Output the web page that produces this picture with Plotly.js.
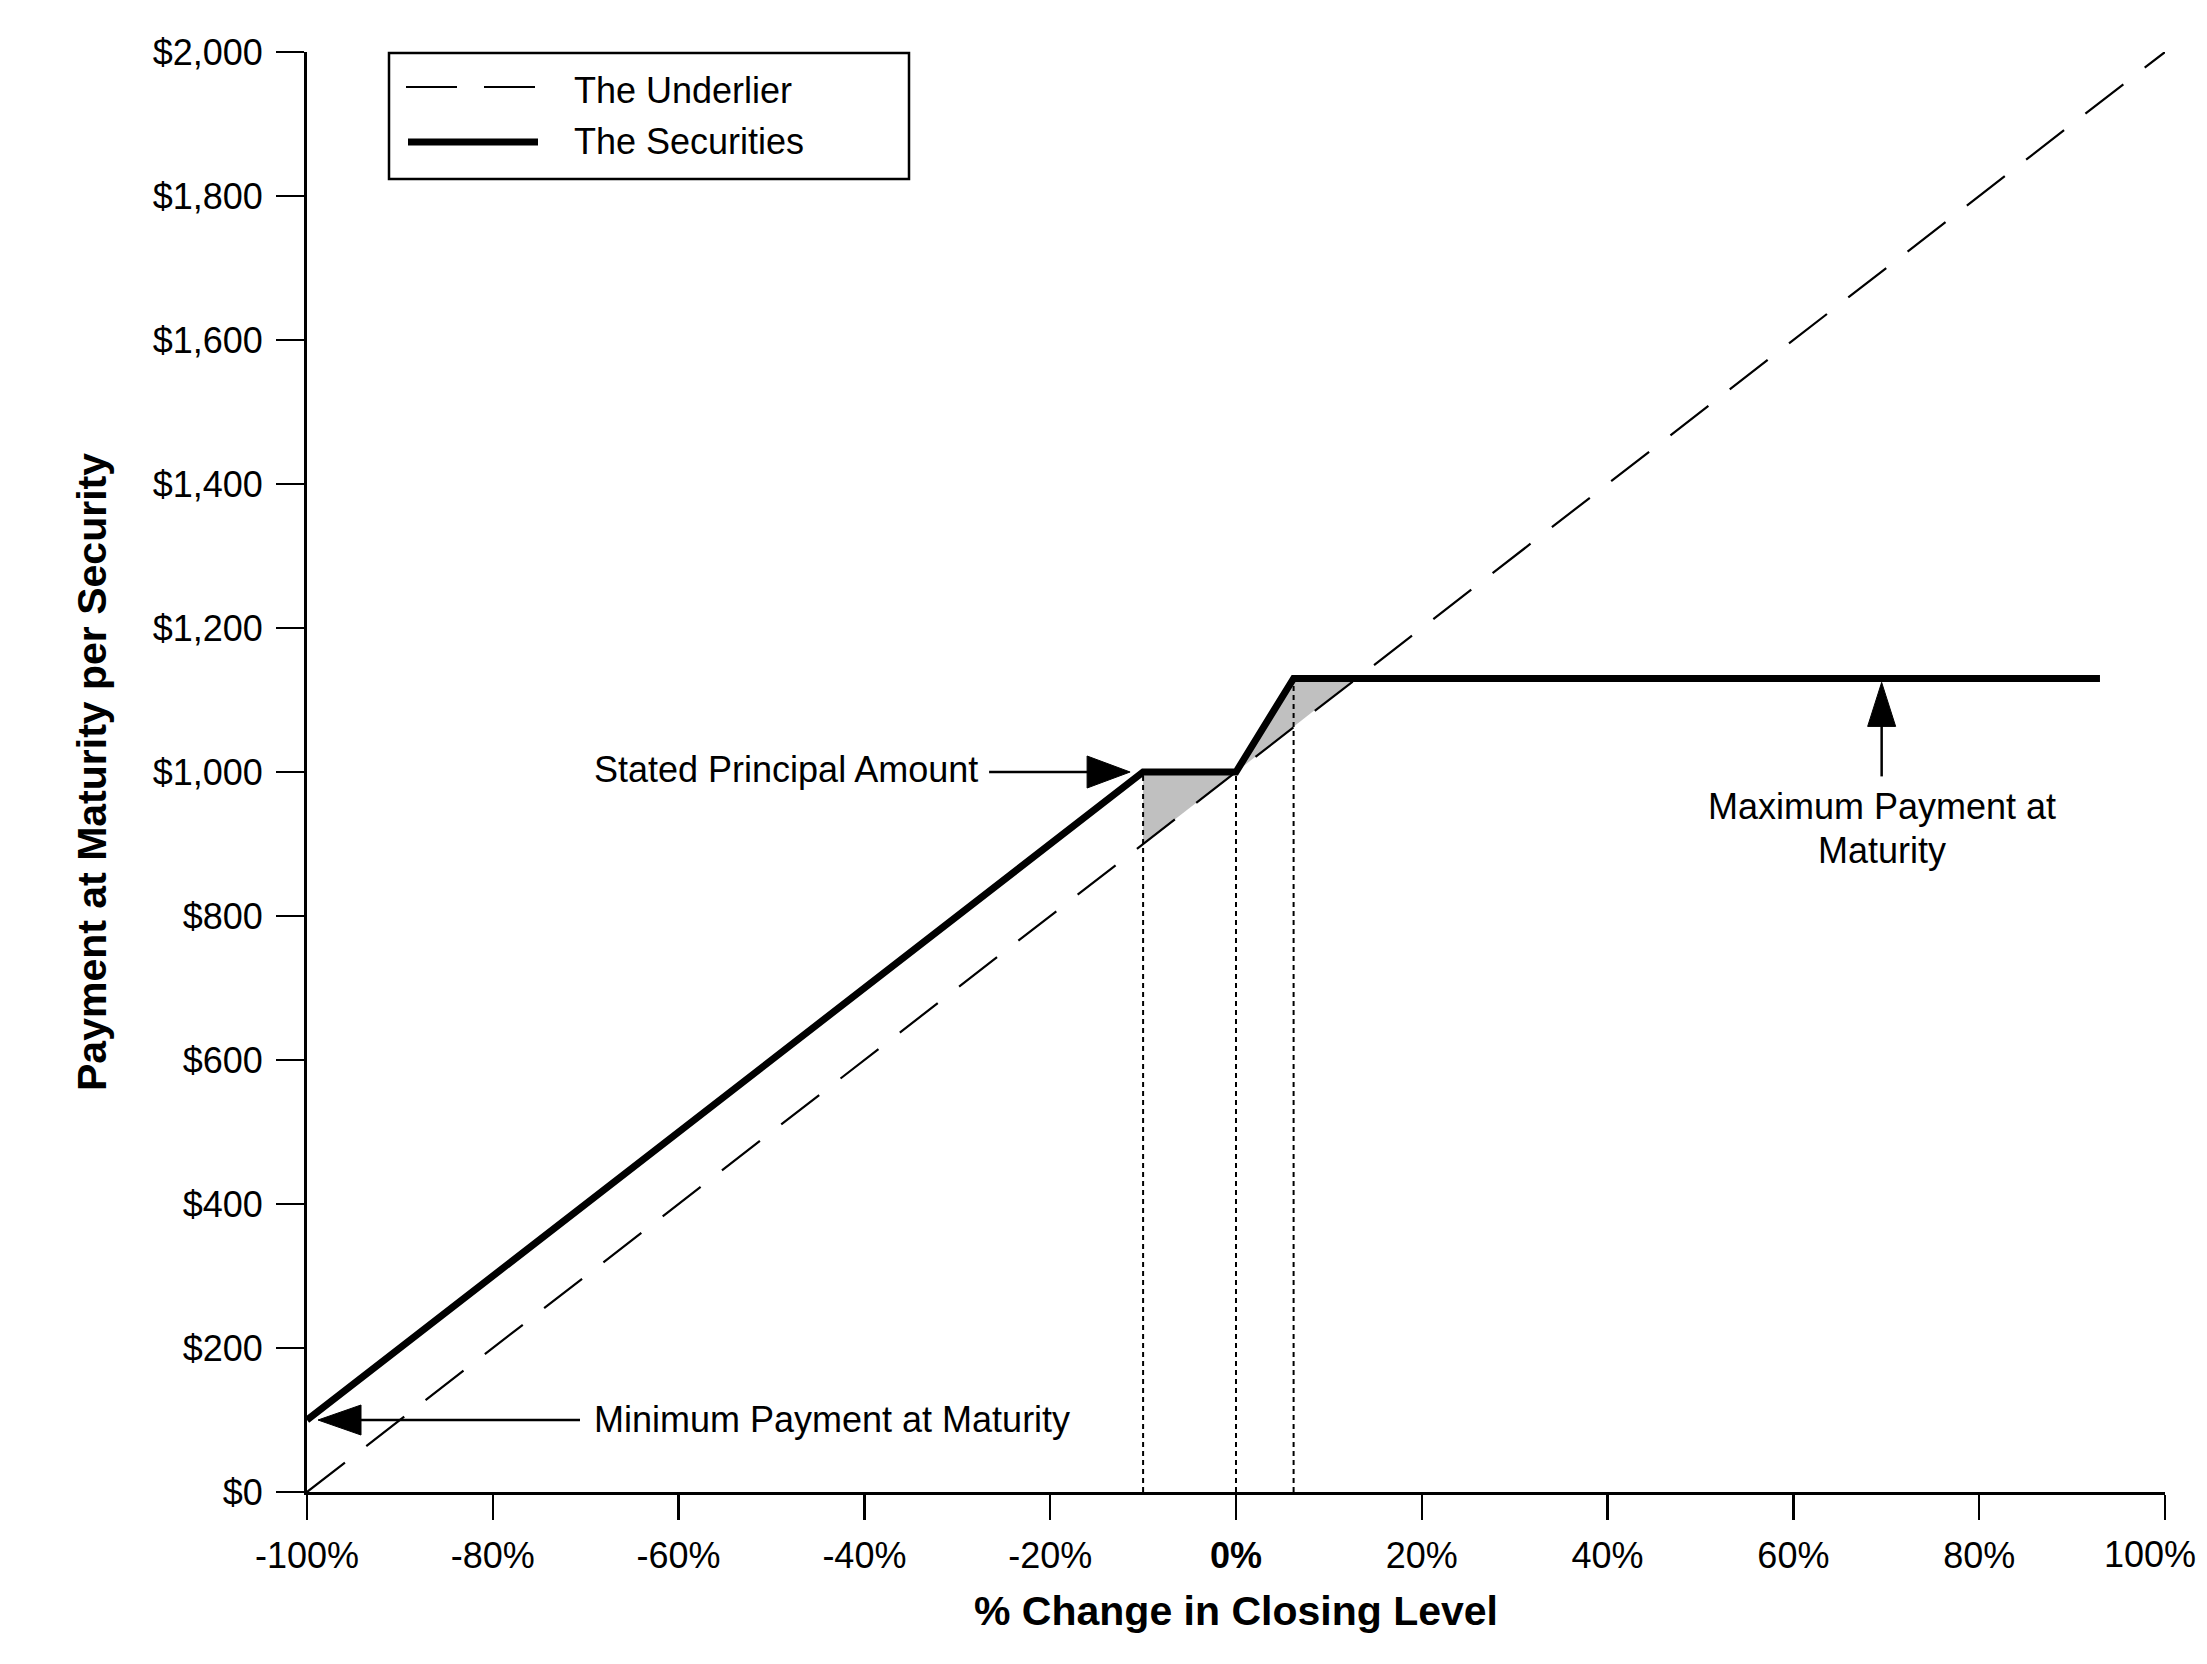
<!DOCTYPE html>
<html>
<head>
<meta charset="utf-8">
<script src="https://cdn.plot.ly/plotly-3.0.1.min.js"></script>
<style>
  html, body { margin: 0; padding: 0; background: #ffffff; }
  #chart { width: 2207px; height: 1664px; }
</style>
</head>
<body>
<div id="chart"></div>
<script>
// ---------------- DATA ----------------
// Underlier: payment tracks the % change 1:1 on $1,000
const underlierPct = [-100, 100];
const underlierPayment = [0, 2000];

// Securities payoff breakpoints
const securitiesPct = [-100, -10, 0, 6.2, 93];
const securitiesPayment = [100, 1000, 1000, 1130, 1130];

// Shaded areas between the two payoffs
const bufferShadePct = [-10, 0, -10];
const bufferShadePayment = [1000, 1000, 900];
const capShadePct = [0, 6.2, 12.8];
const capShadePayment = [1000, 1130, 1130];

// Dotted reference lines
const dottedPct = [-10, 0, 6.2];
const dottedPayment = [1000, 1000, 1130];

// Axis ticks
const xTickVals = [-100, -80, -60, -40, -20, 0, 20, 40, 60, 80, 100];
const xTickLabels = ['-100%', '-80%', '-60%', '-40%', '-20%', '<b>0%</b>', '20%', '40%', '60%', '80%', '100%'];
const yTickVals = [0, 200, 400, 600, 800, 1000, 1200, 1400, 1600, 1800, 2000];
const yTickLabels = ['$0', '$200', '$400', '$600', '$800', '$1,000', '$1,200', '$1,400', '$1,600', '$1,800', '$2,000'];

// Annotation anchors
const principalPoint = { pct: -10, payment: 1000 };
const minimumPoint = { pct: -100, payment: 100 };
const maximumPoint = { pct: 69.5, payment: 1130 };

const seriesNames = ['The Underlier', 'The Securities'];

// ---------------- LAYOUT CONSTANTS ----------------
const W = 2207, H = 1664;
const M = { l: 307, r: 42, t: 52, b: 172 };
const PW = W - M.l - M.r, PH = H - M.t - M.b;
const px2px = x => (x - M.l) / PW;     // pixel -> paper x
const py2py = y => (H - M.b - y) / PH; // pixel -> paper y

const FONT = 'Liberation Sans, Arial, Helvetica, sans-serif';

// The last tick label sits at the chart's right edge; it is drawn right-aligned
// so that it stays inside the picture (as in the reference).
const lastIdx = xTickVals.length - 1;
const axisTickText = xTickLabels.map((t, i) => (i === lastIdx ? '' : t));

// ---------------- TRACES ----------------
const traces = [];
traces.push({
  x: bufferShadePct, y: bufferShadePayment, type: 'scatter', mode: 'lines',
  fill: 'toself', fillcolor: '#c0c0c0', line: { width: 0, color: 'rgba(0,0,0,0)' },
  hoverinfo: 'skip', showlegend: false
});
traces.push({
  x: capShadePct, y: capShadePayment, type: 'scatter', mode: 'lines',
  fill: 'toself', fillcolor: '#c0c0c0', line: { width: 0, color: 'rgba(0,0,0,0)' },
  hoverinfo: 'skip', showlegend: false
});
dottedPct.forEach((p, i) => {
  traces.push({
    x: [p, p], y: [0, dottedPayment[i]], type: 'scatter', mode: 'lines',
    line: { color: '#000', width: 2, dash: '5px,4px' },
    hoverinfo: 'skip', showlegend: false
  });
});
traces.push({
  x: underlierPct, y: underlierPayment, type: 'scatter', mode: 'lines',
  name: seriesNames[0], line: { color: '#000', width: 2.2, dash: '48px,27px' },
  showlegend: false
});
traces.push({
  x: securitiesPct, y: securitiesPayment, type: 'scatter', mode: 'lines',
  name: seriesNames[1], line: { color: '#000', width: 7 },
  showlegend: false
});

// ---------------- SHAPES (arrows + legend) ----------------
function pixLine(anchor, x0, y0, x1, y1, w) {
  return {
    type: 'line', xref: 'x', yref: 'y', xsizemode: 'pixel', ysizemode: 'pixel',
    xanchor: anchor.pct, yanchor: anchor.payment, x0: x0, y0: y0, x1: x1, y1: y1,
    line: { color: '#000', width: w }
  };
}
function pixPath(anchor, path) {
  return {
    type: 'path', xref: 'x', yref: 'y', xsizemode: 'pixel', ysizemode: 'pixel',
    xanchor: anchor.pct, yanchor: anchor.payment, path: path,
    fillcolor: '#000', line: { color: '#000', width: 1 }
  };
}
const shapes = [
  // Stated Principal Amount arrow (pointing right)
  pixLine(principalPoint, -154, 0, -55, 0, 2.5),
  pixPath(principalPoint, 'M-13,0 L-56,16 L-56,-16 Z'),
  // Minimum Payment arrow (pointing left)
  pixLine(minimumPoint, 52, 0, 273, 0, 2.5),
  pixPath(minimumPoint, 'M11,0 L54,15 L54,-15 Z'),
  // Maximum Payment arrow (pointing up)
  pixLine(maximumPoint, 0, -46, 0, -98, 2.5),
  pixPath(maximumPoint, 'M0,-4 L-14,-48 L14,-48 Z'),
  // Legend box
  { type: 'rect', xref: 'paper', yref: 'paper',
    x0: px2px(389), x1: px2px(909), y0: py2py(179), y1: py2py(53),
    line: { color: '#000', width: 2.5 }, fillcolor: 'rgba(255,255,255,0)' },
  // Legend sample lines
  { type: 'line', xref: 'paper', yref: 'paper',
    x0: px2px(406), x1: px2px(537), y0: py2py(87), y1: py2py(87),
    line: { color: '#000', width: 2.2, dash: '51px,27px' } },
  { type: 'line', xref: 'paper', yref: 'paper',
    x0: px2px(408), x1: px2px(538), y0: py2py(142), y1: py2py(142),
    line: { color: '#000', width: 7 } }
];

// ---------------- ANNOTATIONS ----------------
const annotations = [
  { x: principalPoint.pct, y: principalPoint.payment, xref: 'x', yref: 'y',
    text: 'Stated Principal Amount', showarrow: false,
    xanchor: 'right', yanchor: 'middle', xshift: -163, yshift: 3,
    font: { family: FONT, size: 36, color: '#000' } },
  { x: minimumPoint.pct, y: minimumPoint.payment, xref: 'x', yref: 'y',
    text: 'Minimum Payment at Maturity', showarrow: false,
    xanchor: 'left', yanchor: 'middle', xshift: 285, yshift: 1,
    font: { family: FONT, size: 36, color: '#000' } },
  { x: maximumPoint.pct, y: maximumPoint.payment, xref: 'x', yref: 'y',
    text: 'Maximum Payment at', showarrow: false,
    xanchor: 'center', yanchor: 'middle', yshift: -128,
    font: { family: FONT, size: 36, color: '#000' } },
  { x: maximumPoint.pct, y: maximumPoint.payment, xref: 'x', yref: 'y',
    text: 'Maturity', showarrow: false,
    xanchor: 'center', yanchor: 'middle', yshift: -172,
    font: { family: FONT, size: 36, color: '#000' } },
  // Last x tick label, kept inside the picture
  { x: xTickVals[lastIdx], y: 0, xref: 'x', yref: 'paper',
    text: xTickLabels[lastIdx], showarrow: false,
    xanchor: 'right', yanchor: 'middle', xshift: 33, yshift: -62,
    font: { family: FONT, size: 36, color: '#000' } },
  // Legend labels
  { x: px2px(572), y: py2py(90), xref: 'paper', yref: 'paper',
    text: seriesNames[0], showarrow: false, xanchor: 'left', yanchor: 'middle',
    font: { family: FONT, size: 36, color: '#000' } },
  { x: px2px(572), y: py2py(141), xref: 'paper', yref: 'paper',
    text: seriesNames[1], showarrow: false, xanchor: 'left', yanchor: 'middle',
    font: { family: FONT, size: 36, color: '#000' } }
];

// ---------------- LAYOUT ----------------
const layout = {
  width: W, height: H,
  margin: M,
  paper_bgcolor: '#ffffff', plot_bgcolor: '#ffffff',
  font: { family: FONT, size: 36, color: '#000' },
  showlegend: false,
  xaxis: {
    range: [-100, 100], fixedrange: true,
    tickmode: 'array', tickvals: xTickVals, ticktext: axisTickText,
    ticks: 'outside', ticklen: 25, tickwidth: 2.5, tickcolor: '#000',
    ticklabelstandoff: 5,
    showline: true, linewidth: 3, linecolor: '#000', mirror: false,
    showgrid: false, zeroline: false,
    tickfont: { family: FONT, size: 36, color: '#000' },
    title: { text: '<b>% Change in Closing Level</b>', standoff: 22,
             font: { family: FONT, size: 41, color: '#000' } }
  },
  yaxis: {
    range: [0, 2000], fixedrange: true,
    tickmode: 'array', tickvals: yTickVals, ticktext: yTickLabels,
    ticks: 'outside', ticklen: 28, tickwidth: 2.5, tickcolor: '#000',
    ticklabelstandoff: 6,
    showline: true, linewidth: 3, linecolor: '#000', mirror: false,
    showgrid: false, zeroline: false,
    tickfont: { family: FONT, size: 36, color: '#000' },
    title: { text: '<b>Payment at Maturity per Security</b>', standoff: 34,
             font: { family: FONT, size: 41, color: '#000' } }
  },
  shapes: shapes,
  annotations: annotations
};

Plotly.newPlot('chart', traces, layout, { staticPlot: true, displayModeBar: false });
</script>
</body>
</html>
